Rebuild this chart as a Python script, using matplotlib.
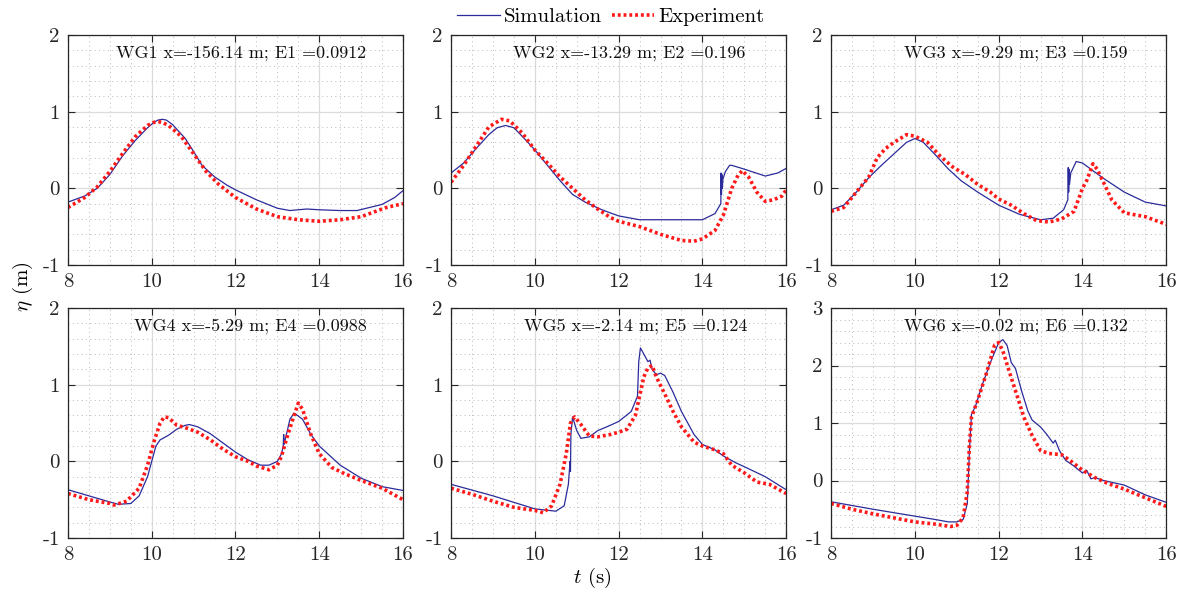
import numpy as np
import matplotlib
matplotlib.use('Agg')
import matplotlib.pyplot as plt
from matplotlib.ticker import MultipleLocator

plt.rcParams['font.family'] = 'serif'
plt.rcParams['font.serif'] = ['cmr10', 'DejaVu Serif']
plt.rcParams['mathtext.fontset'] = 'cm'
plt.rcParams['axes.unicode_minus'] = False

# gauge labels
labels = ['WG1 x=-156.14 m; E1 =0.0912', 'WG2 x=-13.29 m; E2 =0.196',
          'WG3 x=-9.29 m; E3 =0.159', 'WG4 x=-5.29 m; E4 =0.0988',
          'WG5 x=-2.14 m; E5 =0.124', 'WG6 x=-0.02 m; E6 =0.132']

# WG1
t_sim1 = [8.0, 8.4, 8.7, 9.0, 9.3, 9.6, 9.9, 10.05, 10.15, 10.25, 10.35, 10.5, 10.8, 11.0, 11.2, 11.5, 11.8, 12.0,
          12.5, 13.0, 13.3, 13.7, 14.0, 14.5, 14.9, 15.2, 15.5, 15.8, 16.0]
eta_sim1 = [-0.18, -0.1, 0.0, 0.18, 0.42, 0.62, 0.79, 0.86, 0.89, 0.9, 0.89, 0.83, 0.65, 0.48, 0.3, 0.15, 0.04, -0.02,
            -0.15, -0.26, -0.29, -0.27, -0.28, -0.29, -0.29, -0.25, -0.21, -0.12, -0.03]
t_exp1 = [8.0, 8.4, 8.7, 9.0, 9.3, 9.6, 9.9, 10.05, 10.15, 10.25, 10.4, 10.7, 11.0, 11.3, 11.6, 12.0, 12.5, 13.0,
          13.5, 14.0, 14.5, 15.0, 15.3, 15.6, 16.0]
eta_exp1 = [-0.25, -0.12, 0.02, 0.22, 0.45, 0.67, 0.82, 0.86, 0.87, 0.86, 0.82, 0.68, 0.45, 0.22, 0.05, -0.12, -0.27, -0.37,
            -0.41, -0.43, -0.41, -0.37, -0.31, -0.25, -0.2]

# WG2
t_sim2 = [8.0, 8.3, 8.6, 8.9, 9.1, 9.3, 9.5, 9.8, 10.0, 10.3, 10.6, 10.9, 11.2, 11.6, 12.0, 12.5, 13.0,
          13.5, 14.0, 14.3, 14.44, 14.445, 14.455, 14.465, 14.475, 14.49, 14.55, 14.65, 14.7, 15.0,
          15.5, 15.8, 16.0]
eta_sim2 = [0.2, 0.33, 0.52, 0.7, 0.79, 0.82, 0.79, 0.62, 0.5, 0.3, 0.1, -0.08, -0.18, -0.28, -0.36, -0.41, -0.41,
            -0.41, -0.41, -0.33, -0.2, 0.2, -0.08, 0.18, 0.0, 0.12, 0.22, 0.3, 0.3, 0.25,
            0.16, 0.2, 0.26]
t_exp2 = [8.0, 8.3, 8.6, 8.9, 9.2, 9.4, 9.7, 10.0, 10.3, 10.6, 10.9, 11.2, 11.5, 11.8, 12.0, 12.5, 13.0,
          13.5, 13.8, 14.0, 14.3, 14.5, 14.7, 14.85, 14.95, 15.1, 15.3, 15.5, 15.7, 15.9, 16.0]
eta_exp2 = [0.08, 0.3, 0.55, 0.8, 0.9, 0.88, 0.72, 0.5, 0.33, 0.15, 0.0, -0.15, -0.27, -0.38, -0.43, -0.5, -0.6,
            -0.68, -0.69, -0.66, -0.55, -0.35, 0.0, 0.17, 0.23, 0.15, -0.05, -0.17, -0.15, -0.1, -0.02]

# WG3
t_sim3 = [8.0, 8.3, 8.6, 8.9, 9.2, 9.5, 9.8, 10.0, 10.2, 10.5, 10.8, 11.1, 11.5, 12.0, 12.5, 13.0, 13.3,
          13.55, 13.65, 13.66, 13.67, 13.68, 13.69, 13.72, 13.85, 14.0, 14.5, 15.0, 15.5, 16.0]
eta_sim3 = [-0.28, -0.22, -0.05, 0.14, 0.3, 0.45, 0.6, 0.65, 0.6, 0.43, 0.25, 0.1, -0.05, -0.22, -0.34, -0.41, -0.39,
            -0.28, -0.15, 0.27, -0.05, 0.25, 0.05, 0.2, 0.35, 0.33, 0.13, -0.05, -0.18, -0.23]
t_exp3 = [8.0, 8.3, 8.6, 8.9, 9.1, 9.3, 9.5, 9.8, 10.0, 10.3, 10.6, 10.9, 11.2, 11.5, 11.8, 12.0, 12.3,
          12.6, 12.9, 13.2, 13.5, 13.8, 14.0, 14.1, 14.25, 14.35, 14.5, 14.7, 15.0, 15.5, 16.0]
eta_exp3 = [-0.3, -0.25, -0.05, 0.15, 0.4, 0.52, 0.6, 0.7, 0.68, 0.6, 0.42, 0.28, 0.18, 0.05, -0.05, -0.14, -0.22,
            -0.33, -0.42, -0.44, -0.4, -0.3, 0.0, 0.1, 0.32, 0.25, 0.08, -0.15, -0.32, -0.37, -0.47]

# WG4
t_sim4 = [8.0, 8.5, 9.0, 9.2, 9.5, 9.7, 9.9, 10.0, 10.1, 10.2, 10.4, 10.6, 10.8, 10.9, 11.1, 11.4, 11.7,
          12.0, 12.3, 12.6, 12.8, 13.0, 13.1, 13.14, 13.15, 13.16, 13.3, 13.4, 13.6, 13.8, 14.0, 14.5,
          15.0, 15.5, 16.0]
eta_sim4 = [-0.37, -0.45, -0.53, -0.56, -0.55, -0.45, -0.2, 0.0, 0.2, 0.28, 0.34, 0.42, 0.47, 0.48, 0.45, 0.36, 0.24,
            0.12, 0.02, -0.05, -0.05, 0.0, 0.1, 0.2, 0.35, 0.22, 0.55, 0.63, 0.55, 0.35, 0.2, -0.05,
            -0.22, -0.33, -0.38]
t_exp4 = [8.0, 8.5, 9.0, 9.1, 9.4, 9.7, 9.9, 10.05, 10.2, 10.3, 10.4, 10.6, 10.8, 11.1, 11.4, 11.7, 12.0,
          12.3, 12.5, 12.8, 13.0, 13.1, 13.25, 13.4, 13.5, 13.6, 13.8, 14.0, 14.3, 14.6, 15.0, 15.5, 16.0]
eta_exp4 = [-0.42, -0.5, -0.55, -0.57, -0.52, -0.35, -0.05, 0.25, 0.5, 0.58, 0.57, 0.47, 0.44, 0.38, 0.28, 0.16, 0.06,
            0.0, -0.06, -0.11, -0.05, 0.07, 0.35, 0.6, 0.76, 0.68, 0.35, 0.1, -0.08, -0.16, -0.25, -0.35, -0.5]

# WG5
t_sim5 = [8.0, 9.0, 10.0, 10.5, 10.7, 10.8, 10.84, 10.85, 10.86, 10.9, 11.0, 11.1, 11.3, 11.5, 11.8, 12.0,
          12.3, 12.45, 12.48, 12.52, 12.6, 12.7, 12.75, 12.8, 12.9, 13.0, 13.1, 13.3, 13.5, 13.8, 14.0,
          14.3, 14.5, 14.8, 15.0, 15.5, 16.0]
eta_sim5 = [-0.3, -0.45, -0.62, -0.65, -0.58, -0.3, 0.0, -0.13, 0.35, 0.58, 0.4, 0.3, 0.32, 0.4, 0.47, 0.52,
            0.65, 0.85, 1.3, 1.48, 1.4, 1.3, 1.32, 1.2, 1.13, 1.15, 1.12, 0.9, 0.65, 0.35, 0.22,
            0.15, 0.07, -0.02, -0.07, -0.2, -0.37]
t_exp5 = [8.0, 8.5, 9.0, 9.5, 10.0, 10.2, 10.4, 10.6, 10.75, 10.85, 10.95, 11.1, 11.3, 11.5, 11.8, 12.0,
          12.2, 12.4, 12.5, 12.6, 12.7, 12.8, 12.9, 13.1, 13.3, 13.5, 13.8, 14.0, 14.3, 14.5, 14.7, 15.0,
          15.3, 15.6, 16.0]
eta_exp5 = [-0.35, -0.43, -0.52, -0.6, -0.64, -0.67, -0.58, -0.3, 0.1, 0.5, 0.58, 0.48, 0.33, 0.32, 0.35, 0.38,
            0.42, 0.6, 0.85, 1.1, 1.22, 1.25, 1.1, 0.88, 0.65, 0.45, 0.25, 0.2, 0.15, 0.1, -0.05, -0.15,
            -0.27, -0.3, -0.42]

# WG6
t_sim6 = [8.0, 9.0, 10.0, 10.5, 10.8, 11.0, 11.15, 11.25, 11.3, 11.35, 11.45, 11.6, 11.8, 12.0, 12.1, 12.2,
          12.3, 12.4, 12.55, 12.7, 12.8, 13.0, 13.15, 13.3, 13.35, 13.45, 13.6, 13.8, 14.0, 14.1, 14.2,
          14.3, 14.5, 15.0, 15.5, 16.0]
eta_sim6 = [-0.37, -0.5, -0.62, -0.68, -0.72, -0.72, -0.68, -0.4, 0.5, 1.15, 1.3, 1.65, 2.05, 2.4, 2.45, 2.35,
            2.05, 1.95, 1.55, 1.2, 1.05, 0.93, 0.8, 0.65, 0.7, 0.52, 0.35, 0.25, 0.13, 0.18, 0.03,
            0.05, 0.0, -0.08, -0.25, -0.38]
t_exp6 = [8.0, 8.5, 9.0, 9.5, 10.0, 10.5, 10.85, 11.0, 11.15, 11.25, 11.3, 11.35, 11.5, 11.7, 11.9, 12.0,
          12.1, 12.25, 12.45, 12.6, 12.8, 13.0, 13.2, 13.5, 13.7, 14.0, 14.3, 14.6, 15.0, 15.5, 16.0]
eta_exp6 = [-0.4, -0.5, -0.58, -0.65, -0.72, -0.76, -0.8, -0.78, -0.65, -0.2, 0.6, 1.1, 1.4, 1.85, 2.35, 2.4,
            2.25, 1.9, 1.45, 1.1, 0.78, 0.52, 0.47, 0.45, 0.35, 0.18, 0.05, -0.05, -0.15, -0.3, -0.45]

sims = [(t_sim1, eta_sim1), (t_sim2, eta_sim2), (t_sim3, eta_sim3),
        (t_sim4, eta_sim4), (t_sim5, eta_sim5), (t_sim6, eta_sim6)]
exps = [(t_exp1, eta_exp1), (t_exp2, eta_exp2), (t_exp3, eta_exp3),
        (t_exp4, eta_exp4), (t_exp5, eta_exp5), (t_exp6, eta_exp6)]
ylims = [(-1, 2), (-1, 2), (-1, 2), (-1, 2), (-1, 2), (-1, 3)]

lefts = [0.0574, 0.381, 0.702]
bottoms = [0.5524, 0.0912]
w, h = 0.2830, 0.3885
text_x = [0.516, 0.53, 0.55, 0.543, 0.55, 0.55]

fig = plt.figure(figsize=(11.84, 5.92), dpi=100)
for i in range(6):
    ax = fig.add_axes([lefts[i % 3], bottoms[i // 3], w, h])
    ts, es = sims[i]
    te, ee = exps[i]
    l1, = ax.plot(ts, es, color='#2b2b9b', lw=0.9, label='Simulation')
    l2, = ax.plot(te, ee, color='#ff1a1a', lw=2.6, linestyle=(0, (0.8, 0.8)), label='Experiment')
    ax.set_xlim(8, 16)
    ax.set_ylim(*ylims[i])
    ax.set_xticks([8, 10, 12, 14, 16])
    yt = list(range(ylims[i][0], ylims[i][1] + 1))
    ax.set_yticks(yt)
    ax.set_yticklabels([str(v) for v in yt])
    ax.xaxis.set_minor_locator(MultipleLocator(0.5))
    ax.yaxis.set_minor_locator(MultipleLocator(0.2))
    ax.grid(which='major', color='#dcdcdc', lw=0.9, ls='-')
    ax.grid(which='minor', color='#b8b8b8', lw=0.7, ls=(0, (1, 3.5)))
    ax.set_axisbelow(True)
    ax.tick_params(which='major', direction='in', length=5, width=0.8, top=True, right=True,
                   labelsize=15, colors='#262626', pad=6)
    ax.tick_params(which='minor', length=0)
    for s in ax.spines.values():
        s.set_color('#262626')
        s.set_linewidth(0.9)
    ax.text(text_x[i], 0.92, labels[i], transform=ax.transAxes, ha='center', va='center',
            fontsize=13, color='#111111')

fig.legend([l1, l2], ['Simulation', 'Experiment'], loc='center', bbox_to_anchor=(0.516, 0.972),
           ncol=2, frameon=False, fontsize=15, handlelength=2.05, columnspacing=0.45, handletextpad=0.2)
fig.text(0.5, 0.024, r'$t$ (s)', ha='center', va='center', fontsize=15)
fig.text(0.019, 0.515, r'$\eta$ (m)', ha='center', va='center', rotation=90, fontsize=15)

fig.savefig('out.png', dpi=100)
